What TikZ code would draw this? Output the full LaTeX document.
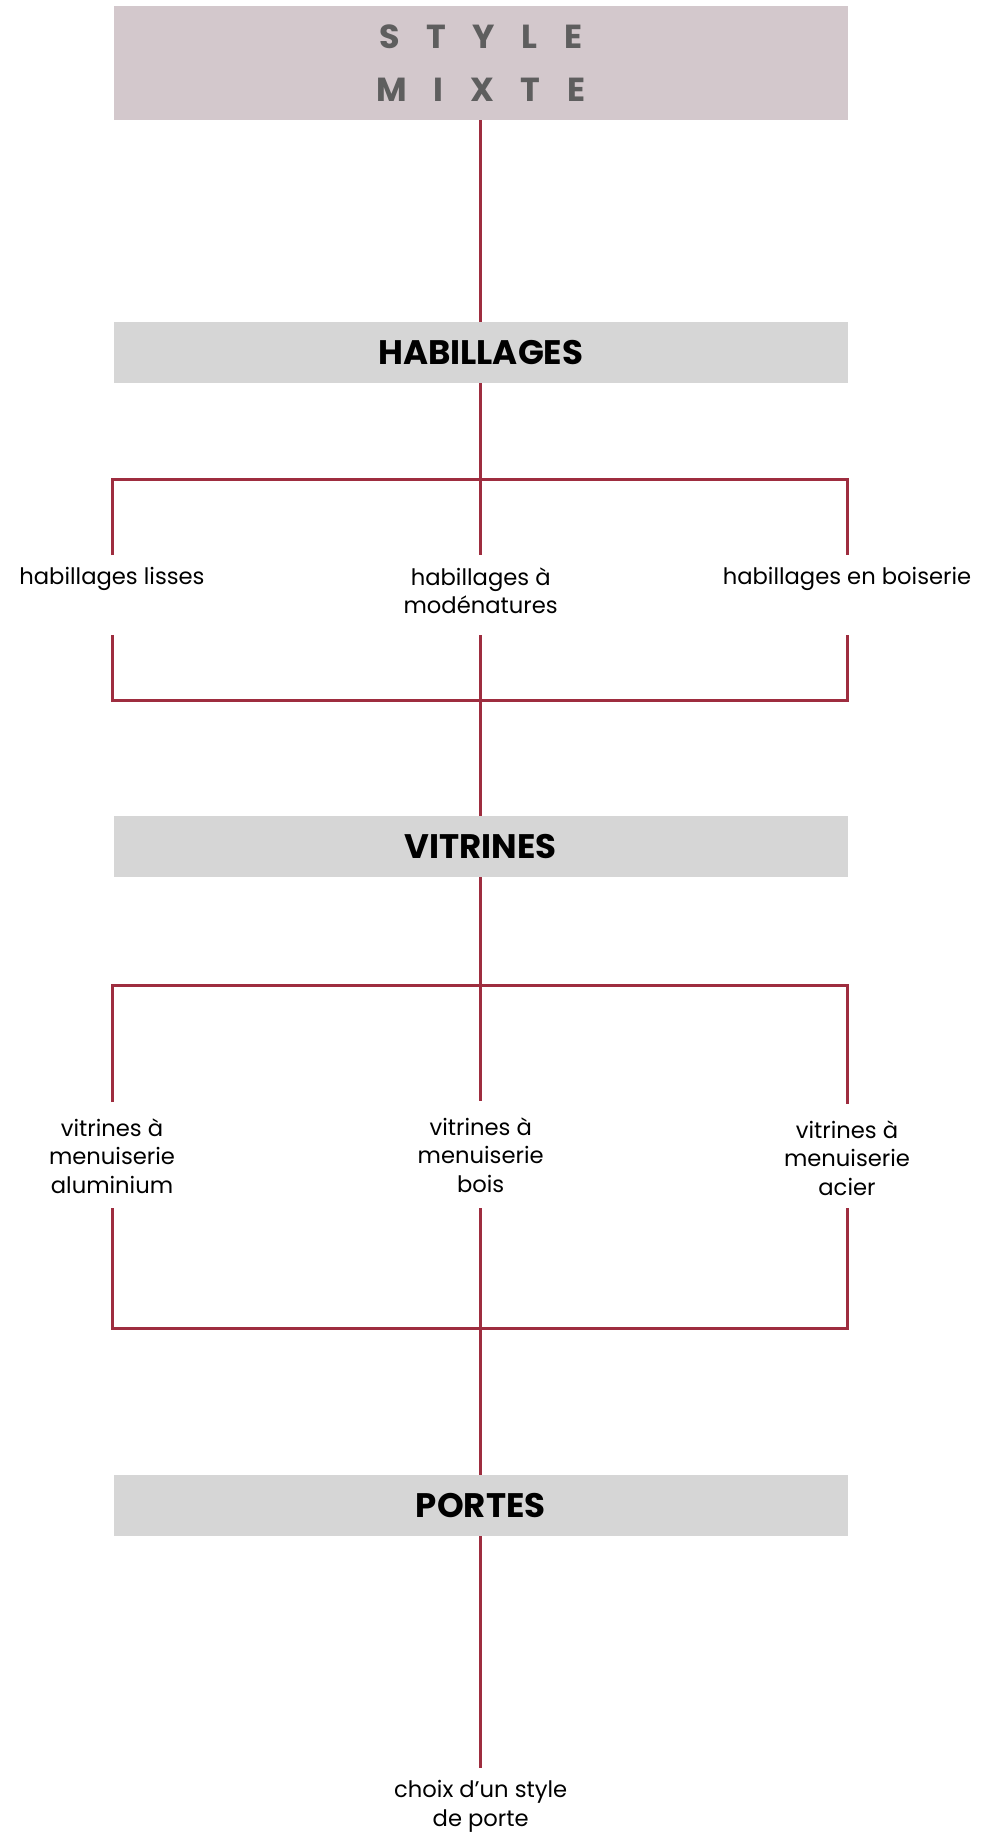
\documentclass[tikz,border=0pt]{standalone}
\usepackage{fontspec}
\setmainfont{Poppins}
\usepackage{tikz}

\definecolor{linkred}{RGB}{158,45,63}
\definecolor{titlefill}{RGB}{211,200,204}
\definecolor{titlegrey}{RGB}{94,94,94}
\definecolor{boxgrey}{RGB}{214,214,214}

\newcommand{\tsp}{\hspace{0.8em}}

\begin{document}
\begin{tikzpicture}[x=0.75pt,y=0.75pt,
    link/.style={draw=linkred,line width=2.25pt},
    headbox/.style={fill=titlefill,minimum width=550.5pt,minimum height=85.5pt,inner sep=0pt,
      align=center,text=titlegrey,font=\bfseries\fontsize{25}{39.75}\selectfont},
    catbox/.style={fill=boxgrey,minimum width=550.5pt,minimum height=45.75pt,inner sep=0pt,
      font=\bfseries\fontsize{25.5}{30}\selectfont},
    choice/.style={anchor=north,align=center,inner xsep=0pt,inner ysep=9pt,
      font=\fontsize{17}{21.4}\selectfont}]
  \useasboundingbox (0,0) rectangle (986,-1838);

  % titre
  \node[headbox] (style) at (480.7,-63) {S\tsp T\tsp Y\tsp L\tsp E\\M\tsp I\tsp X\tsp T\tsp E};

  % habillages
  \node[catbox] (hab) at (480.7,-352.5) {HABILLAGES};
  \coordinate (hT) at (480.7,-479.5);
  \node[choice] (lisses) at (112,-555) {habillages lisses};
  \node[choice] (mod) at (480.7,-555) {habillages à\\modénatures};
  \node[choice] (boiserie) at (847,-555) {habillages en boiserie};
  \coordinate (hlow) at (480.7,-635);
  \coordinate (hB) at (480.7,-700);

  % vitrines
  \node[catbox] (vit) at (480.7,-846.5) {VITRINES};
  \coordinate (vT) at (480.7,-985);
  \node[choice,inner ysep=12pt] (alu) at (112,-1102) {vitrines à\\menuiserie\\aluminium};
  \node[choice,inner ysep=12pt] (bois) at (480.7,-1101) {vitrines à\\menuiserie\\bois};
  \node[choice,inner ysep=12pt] (acier) at (847,-1104) {vitrines à\\menuiserie\\acier};
  \coordinate (vlow) at (480.7,-1208);
  \coordinate (vB) at (480.7,-1328);

  % portes
  \node[catbox] (portes) at (480.7,-1505.5) {PORTES};
  \node[choice] (choix) at (480.7,-1768) {choix d’un style\\de porte};

  % liaisons
  \draw[link] (style) -- (hab);
  \draw[link] (hab) -- (mod);
  \draw[link] (lisses.north) |- (hT) -| (boiserie.north);
  \draw[link] (lisses.north |- hlow) |- (hB) -| (boiserie.north |- hlow);
  \draw[link] (hlow) -- (vit);
  \draw[link] (vit) -- (bois);
  \draw[link] (alu.north) |- (vT) -| (acier.north);
  \draw[link] (alu.north |- vlow) |- (vB) -| (acier.north |- vlow);
  \draw[link] (vlow) -- (portes);
  \draw[link] (portes) -- (choix);
\end{tikzpicture}
\end{document}
